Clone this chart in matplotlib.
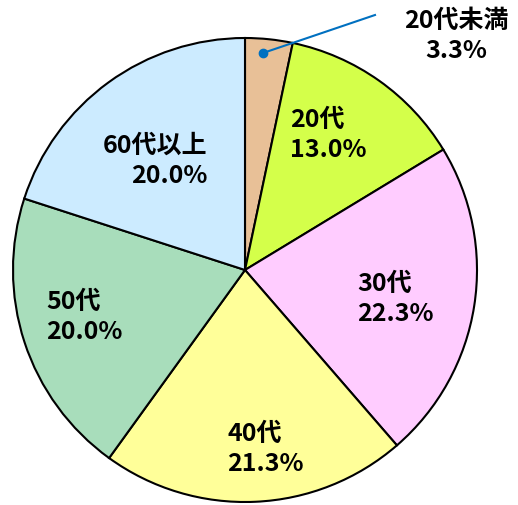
import matplotlib.pyplot as plt

plt.rcParams['font.family'] = ['Noto Sans CJK JP', 'DejaVu Sans']

categories = ['20代未満', '20代', '30代', '40代', '50代', '60代以上']
shares = [3.3, 13.0, 22.3, 21.3, 20.0, 20.0]
colors = ['#E8C097', '#D4FF4A', '#FFCCFF', '#FFFF99', '#A8DDBB', '#CCEBFF']

# label positions in pixel coords (x, y from top), alignment
label_pos = [(456, 36, 'center'), (290, 135, 'left'), (357, 299, 'left'),
             (227, 449, 'left'), (46, 317, 'left'), (207, 161, 'right')]

W, H = 518, 505
fig = plt.figure(figsize=(W / 100, H / 100), dpi=100)
ax = fig.add_axes([0, 0, 1, 1])
ax.set_xlim(0, W)
ax.set_ylim(0, H)
ax.set_aspect('equal')
ax.axis('off')

cx, cy, r = 245, H - 270, 232
wedges, _ = ax.pie(shares, colors=colors, startangle=90, counterclock=False,
                   center=(cx, cy), radius=r,
                   wedgeprops=dict(edgecolor='black', linewidth=1.5))
ax.set_xlim(0, W)
ax.set_ylim(0, H)

for cat, val, (x, y, ha) in zip(categories, shares, label_pos):
    ax.text(x, H - y, f'{cat}\n{val:.1f}%', ha=ha, va='center', fontsize=18,
            fontweight='bold', linespacing=1.3, multialignment=ha)

# leader line for the small slice
ax.plot([263, 375], [H - 53, H - 15], color='#0070C0', lw=1.5)
ax.plot(263, H - 53, 'o', color='#0070C0', ms=6)

fig.savefig('out.png', dpi=100)
